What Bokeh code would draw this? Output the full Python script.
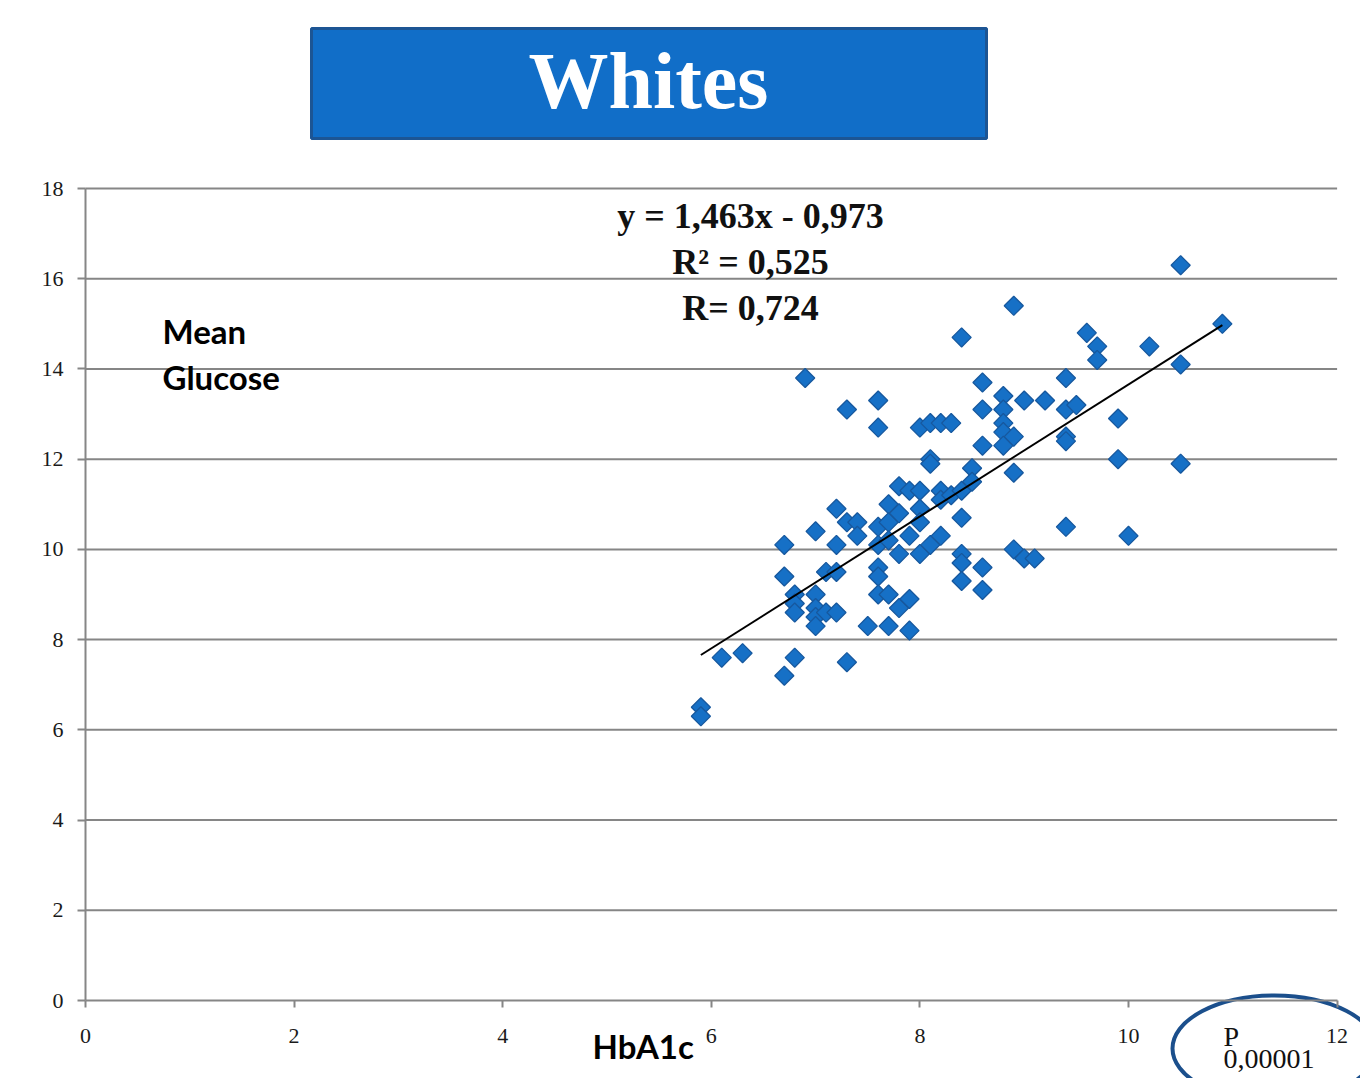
import numpy as np
from bokeh.plotting import figure
from bokeh.models import Range1d, FixedTicker
from bokeh.core.properties import value
from bokeh.embed import file_html
from bokeh.resources import INLINE

# ---------------- data ----------------
hba1c = [5.9, 5.9, 6.1, 6.3, 6.7, 6.8, 7.3, 6.7, 6.7, 6.8, 6.8, 6.8, 6.9, 7.0, 7.0, 7.0,
         7.0, 7.0, 7.1, 7.1, 7.2, 7.2, 7.2, 7.2, 7.3, 7.3, 7.4, 7.4, 7.5, 7.6, 7.6, 7.6,
         7.6, 7.6, 7.6, 7.6, 7.7, 7.7, 7.7, 7.7, 7.7, 7.8, 7.8, 7.8, 7.8, 7.9, 7.9, 7.9,
         7.9, 8.0, 8.0, 8.0, 8.0, 8.0, 8.1, 8.1, 8.1, 8.1, 8.2, 8.2, 8.2, 8.2, 8.3, 8.3,
         8.4, 8.4, 8.4, 8.4, 8.4, 8.4, 8.5, 8.5, 8.6, 8.6, 8.6, 8.6, 8.6, 8.8, 8.8, 8.8,
         8.8, 8.8, 8.9, 8.9, 8.9, 8.9, 9.0, 9.0, 9.1, 9.2, 9.4, 9.4, 9.4, 9.4, 9.4, 9.5,
         9.6, 9.7, 9.7, 9.9, 9.9, 10.0, 10.2, 10.5, 10.5, 10.5, 10.9]
glucose = [6.5, 6.3, 7.6, 7.7, 7.2, 7.6, 7.5, 10.1, 9.4, 9.0, 8.8, 8.6, 13.8, 10.4, 9.0, 8.7,
           8.5, 8.3, 9.5, 8.6, 10.9, 10.1, 9.5, 8.6, 13.1, 10.6, 10.6, 10.3, 8.3, 13.3, 12.7, 10.5,
           10.1, 9.6, 9.4, 9.0, 11.0, 10.6, 10.2, 9.0, 8.3, 11.4, 10.8, 9.9, 8.7, 11.3, 10.3, 8.9,
           8.2, 12.7, 11.3, 10.9, 10.6, 9.9, 12.8, 12.0, 11.9, 10.1, 12.8, 11.3, 11.1, 10.3, 12.8, 11.2,
           14.7, 11.3, 10.7, 9.9, 9.7, 9.3, 11.8, 11.5, 13.7, 13.1, 12.3, 9.6, 9.1, 13.4, 13.1, 12.8,
           12.6, 12.3, 15.4, 12.5, 11.7, 10.0, 13.3, 9.8, 9.8, 13.3, 13.8, 13.1, 12.5, 12.4, 10.5, 13.2,
           14.8, 14.5, 14.2, 12.9, 12.0, 10.3, 14.5, 16.3, 14.1, 11.9, 15.0]

x_ticks = [0, 2, 4, 6, 8, 10, 12]
y_ticks = [0, 2, 4, 6, 8, 10, 12, 14, 16, 18]
slope, intercept = 1.463, -0.973
fit_x = [5.9, 10.9]
fit_y = [slope * v + intercept for v in fit_x]

title_text = "Whites"
eq_lines = ["y = 1,463x - 0,973", "R\u00b2 = 0,525", "R= 0,724"]
y_label_lines = ["Mean", "Glucose"]
x_label = "HbA1c"
p_lines = ["P", "0,00001"]

# ---------------- layout (canvas pixels) ----------------
W, H = 1360, 1078
PX_X, PX_Y = 104.3, 45.11     # pixels per data unit
OX, OY = 85, 1000             # canvas pixel of data origin


def dx(px):
    return (px - OX) / PX_X


def dy(py):
    return (OY - py) / PX_Y


p = figure(width=W, height=H, output_backend="svg", toolbar_location=None,
           x_range=Range1d(dx(0), dx(W)), y_range=Range1d(dy(H), dy(0)),
           min_border=0)
p.outline_line_color = None
p.background_fill_color = "white"
p.border_fill_color = "white"
p.xgrid.visible = False
p.ygrid.visible = False

grid_col = "#868686"
# gridlines
gy = y_ticks[1:]
p.segment(x0=[x_ticks[0]] * len(gy), x1=[x_ticks[-1]] * len(gy), y0=gy, y1=gy,
          line_color=grid_col, line_width=2)

# axes at data origin
for ax, bounds, ticks, tout in ((p.xaxis[0], (x_ticks[0], x_ticks[-1]), x_ticks, 7),
                                (p.yaxis[0], (y_ticks[0], y_ticks[-1]), y_ticks, 8)):
    ax.fixed_location = 0
    ax.bounds = bounds
    ax.ticker = FixedTicker(ticks=ticks)
    ax.axis_line_color = grid_col
    ax.axis_line_width = 2
    ax.major_tick_line_color = grid_col
    ax.major_tick_line_width = 2
    ax.major_tick_out = tout
    ax.major_tick_in = 0
    ax.minor_tick_line_color = None
    ax.major_label_text_font = "Liberation Serif"
    ax.major_label_text_font_size = "22px"
    ax.major_label_text_color = "#1a1a1a"
p.xaxis[0].major_label_standoff = 21
p.yaxis[0].major_label_standoff = 14

# scatter
p.scatter(hba1c, glucose, marker="square", size=13.5, angle=np.pi / 4,
          fill_color="#1670C6", line_color="#17589E", line_width=1.3)

# trend line
p.line(fit_x, fit_y, line_color="black", line_width=2)

# title box
p.quad(left=dx(311), right=dx(986), top=dy(28), bottom=dy(138),
       fill_color="#116EC8", line_color="#1C5594", line_width=3)
p.text(x=[dx(648)], y=[dy(80)], text=[title_text], text_color="white",
       text_font=value("Liberation Serif"), text_font_style="bold",
       text_font_size=value("80px"), text_align="center", text_baseline="alphabetic")

# regression texts
p.text(x=[dx(750)] * 3, y=[dy(215), dy(261), dy(307)], text=eq_lines,
       text_color="#111111", text_font=value("Liberation Serif"), text_font_style="bold",
       text_font_size=value("36px"), text_align="center", text_baseline="alphabetic")

# axis titles
p.text(x=[dx(162)] * 2, y=[dy(330), dy(376)], text=y_label_lines, text_color="black",
       text_font=value("Lato"), text_font_style="bold", text_font_size=value("33px"),
       text_align="left", text_baseline="alphabetic")
p.text(x=[dx(592)], y=[dy(1045)], text=[x_label], text_color="black",
       text_font=value("Lato"), text_font_style="bold", text_font_size=value("33px"),
       text_align="left", text_baseline="alphabetic")

# P-value ellipse
p.ellipse(x=[dx(1274)], y=[dy(1048)], width=[204], height=[106],
          width_units="screen", height_units="screen",
          fill_color=None, line_color="#1B4F8C", line_width=4)
p.text(x=[dx(1223)] * 2, y=[dy(1036), dy(1058)], text=p_lines, text_color="#111111",
       text_font=value("Liberation Serif"), text_font_size=value("28px"),
       text_align="left", text_baseline="alphabetic")

open("out.html", "w").write(file_html(p, INLINE))
